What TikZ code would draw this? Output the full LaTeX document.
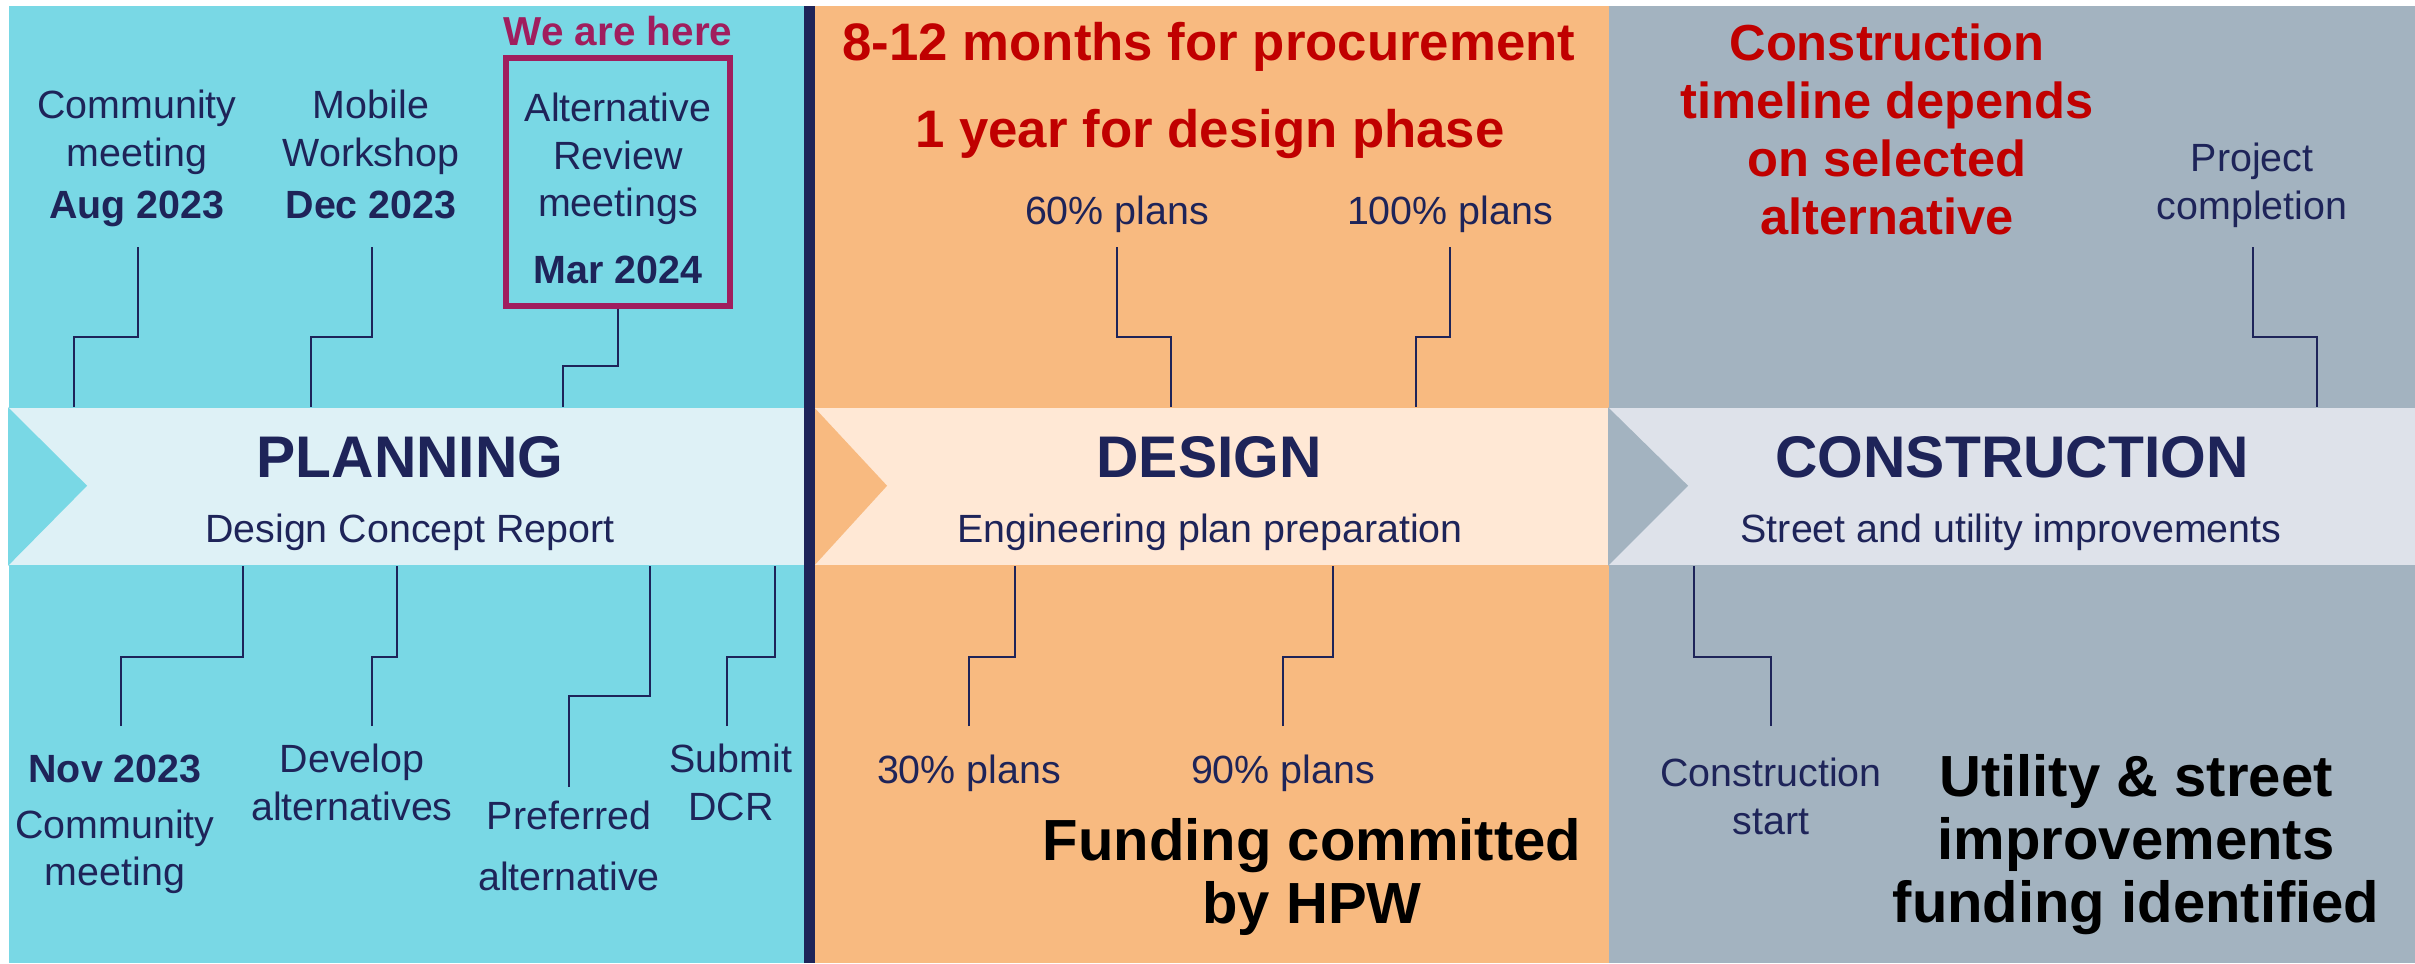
\documentclass[tikz,border=0pt]{standalone}
\usepackage{fontspec}
\setmainfont{Liberation Sans}
\usetikzlibrary{positioning}

\definecolor{navy}{HTML}{1E2459}
\definecolor{plan}{HTML}{79D8E5}
\definecolor{planlight}{HTML}{DEF1F6}
\definecolor{design}{HTML}{F8BA80}
\definecolor{designlight}{HTML}{FFE8D5}
\definecolor{build}{HTML}{A3B3C0}
\definecolor{buildlight}{HTML}{DEE2EA}
\definecolor{here}{HTML}{A01E5E}
\definecolor{alert}{HTML}{C00000}

\begin{document}
\begin{tikzpicture}[x=0.01cm, y=-0.01cm]
  % Styles
  \tikzset{
    bar/.style={inner sep=0pt, minimum height=1.57cm},
    phase/.style={text=navy, inner sep=0pt, anchor=base, font=\fontsize{16.7}{20}\selectfont\bfseries},
    sub/.style={text=navy, inner sep=0pt, anchor=base, font=\fontsize{11.2}{13.6}\selectfont},
    milestone/.style={text=navy, align=center, inner sep=0pt, anchor=north, font=\fontsize{11.2}{13.6}\selectfont},
    leader/.style={navy, line width=0.6pt},
    note/.style={text=alert, align=center, inner sep=0pt, font=\fontsize{15}{16.5}\selectfont\bfseries},
    fund/.style={text=black, align=center, inner sep=0pt, anchor=north, font=\fontsize{16.5}{17.9}\selectfont\bfseries}
  }
  \useasboundingbox (0,0) rectangle (2415,963);

  % Fonds des trois phases
  \fill[plan] (9,6) rectangle (806,963);
  \fill[design] (806,6) rectangle (1609,963);
  \fill[build] (1609,6) rectangle (2415,963);

  % Bandeaux avec encoche
  \node[bar, fill=planlight, minimum width=7.95cm] (planbar) at (406.5,486.5) {};
  \node[bar, fill=designlight, minimum width=7.94cm] (designbar) at (1212,486.5) {};
  \node[bar, fill=buildlight, minimum width=8.06cm] (buildbar) at (2012,486.5) {};
  \fill[plan] (planbar.north west) -- ++(79,78.5) -- (planbar.south west) -- cycle;
  \fill[design] (designbar.north west) -- ++(73,78.5) -- (designbar.south west) -- cycle;
  \fill[build] (buildbar.north west) -- ++(80,78.5) -- (buildbar.south west) -- cycle;

  % Séparateur
  \fill[navy] (804,6) rectangle (815,963);

  % Titres des phases
  \node[phase] (plantitle) at (410,477) {PLANNING};
  \node[sub] (plansub) at (410,542) {Design Concept Report};
  \node[phase] (designtitle) at (1209,477) {DESIGN};
  \node[sub] (designsub) at (1210,542) {Engineering plan preparation};
  \node[phase] (buildtitle) at (2012,477) {CONSTRUCTION};
  \node[sub] (buildsub) at (2011,542) {Street and utility improvements};

  % --- Planning ---
  \node[milestone] (aug) at (137,89) {Community\\meeting\\[1.4pt]\textbf{Aug 2023}};
  \node[milestone] (dec) at (371,89) {Mobile\\Workshop\\[1.4pt]\textbf{Dec 2023}};
  \node[milestone] (alt) at (618,92) {Alternative\\Review\\meetings\\[5.4pt]\textbf{Mar 2024}};
  \node[draw=here, line width=1.5pt, inner sep=0pt,
        minimum width=2.24cm, minimum height=2.48cm] (altbox) at (618,182) {};
  \node[text=here, inner sep=0pt, font=\fontsize{11.5}{13}\selectfont\bfseries,
        above=2.5pt of altbox] (herelabel) {We are here};

  \node[milestone] (nov) at (115,754) {\textbf{Nov 2023}\\[2.3pt]Community\\meeting};
  \node[milestone] (dev) at (352,743) {Develop\\alternatives};
  \node[milestone] (pref) at (569,800) {Preferred\\[3.7pt]alternative};
  \node[milestone] (dcr) at (731,743) {Submit\\DCR};

  \coordinate (aug-l) at (138,247);
  \coordinate (dec-l) at (372,247);
  \coordinate (nov-l) at (121,726);
  \coordinate (dev-l) at (372,726);
  \coordinate (pref-l) at (569,787);
  \coordinate (dcr-l) at (727,726);
  \draw[leader] (aug-l) |- ++(-64,90) coordinate (k) -- (k |- planbar.north);
  \draw[leader] (dec-l) |- ++(-61,90) coordinate (k) -- (k |- planbar.north);
  \draw[leader] (altbox.south) |- ++(-55,57) coordinate (k) -- (k |- planbar.north);
  \draw[leader] (nov-l) |- ++(122,-69) coordinate (k) -- (k |- planbar.south);
  \draw[leader] (dev-l) |- ++(25,-69) coordinate (k) -- (k |- planbar.south);
  \draw[leader] (pref-l) |- ++(81,-91) coordinate (k) -- (k |- planbar.south);
  \draw[leader] (dcr-l) |- ++(48,-69) coordinate (k) -- (k |- planbar.south);

  % --- Design ---
  \node[note, anchor=base] (procure) at (1209,60) {8-12 months for procurement};
  \node[note, anchor=base] (oneyear) at (1210,147) {1 year for design phase};
  \node[milestone] (p60) at (1117,195) {60\% plans};
  \node[milestone] (p100) at (1450,195) {100\% plans};
  \node[milestone] (p30) at (969,754) {30\% plans};
  \node[milestone] (p90) at (1283,754) {90\% plans};
  \node[fund] (hpw) at (1312,818) {Funding committed\\by HPW};

  \coordinate (p60-l) at (1117,247);
  \coordinate (p100-l) at (1450,247);
  \coordinate (p30-l) at (969,726);
  \coordinate (p90-l) at (1283,726);
  \draw[leader] (p60-l) |- ++(54,90) coordinate (k) -- (k |- designbar.north);
  \draw[leader] (p100-l) |- ++(-34,90) coordinate (k) -- (k |- designbar.north);
  \draw[leader] (p30-l) |- ++(46,-69) coordinate (k) -- (k |- designbar.south);
  \draw[leader] (p90-l) |- ++(50,-69) coordinate (k) -- (k |- designbar.south);

  % --- Construction ---
  \node[note, anchor=north, font=\fontsize{14.4}{16.5}\selectfont\bfseries] (depends) at (1887,23)
        {Construction\\timeline depends\\on selected\\alternative};
  \node[milestone] (done) at (2252,142) {Project\\completion};
  \node[milestone] (start) at (1771,757) {Construction\\start};
  \node[fund] (utility) at (2136,754) {Utility \& street\\improvements\\funding identified};

  \coordinate (done-l) at (2253,247);
  \coordinate (start-l) at (1771,726);
  \draw[leader] (done-l) |- ++(64,90) coordinate (k) -- (k |- buildbar.north);
  \draw[leader] (start-l) |- ++(-77,-69) coordinate (k) -- (k |- buildbar.south);
\end{tikzpicture}
\end{document}
